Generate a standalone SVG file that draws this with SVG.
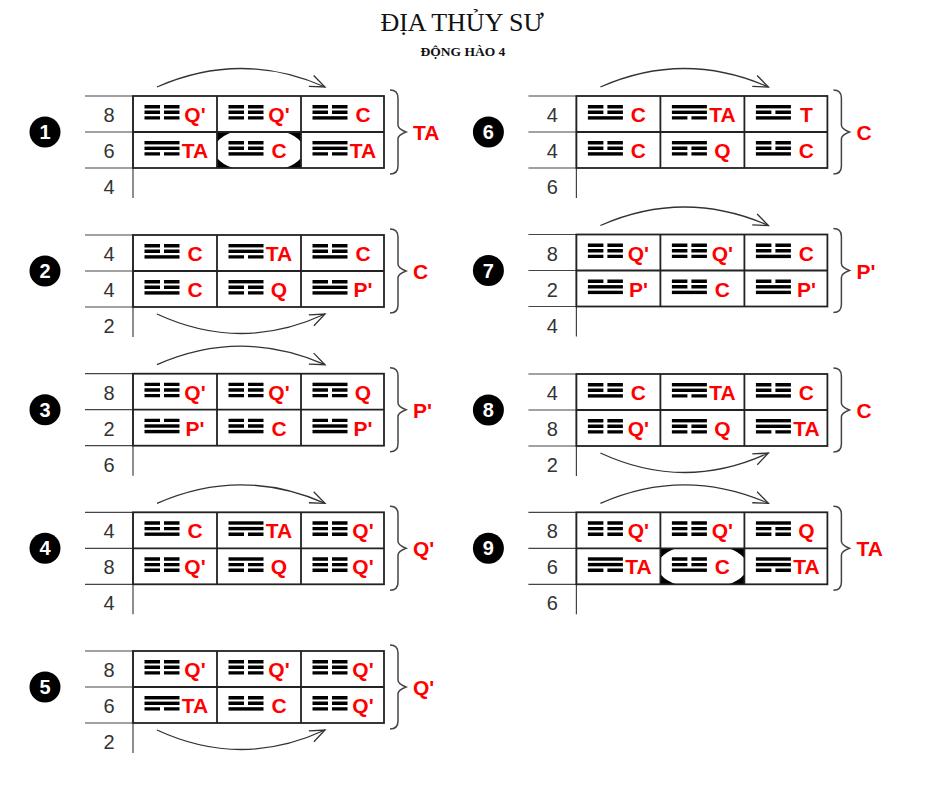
<svg xmlns="http://www.w3.org/2000/svg" width="930" height="800" viewBox="0 0 930 800">
<style>
.nl{stroke:#444;stroke-width:1.2;fill:none}
.box{stroke:#222;stroke-width:1.8;fill:none}
.num{font-family:"Liberation Sans",Arial,sans-serif;font-size:20px;fill:#333;text-anchor:middle}
.lab{font-family:"Liberation Sans",Arial,sans-serif;font-size:21px;font-weight:bold;fill:#ff0000;text-anchor:middle}
.bl{font-family:"Liberation Sans",Arial,sans-serif;font-size:21px;font-weight:bold;fill:#ff0000}
.br{stroke:#444;stroke-width:1.5;fill:none}
.cn{font-family:"Liberation Sans",Arial,sans-serif;font-size:20px;font-weight:bold;fill:#fff;text-anchor:middle}
.arc{stroke:#333;stroke-width:1.3;fill:none;marker-end:url(#ah)}
.hl{fill:#000}
</style>
<defs>
<marker id="ah" markerUnits="userSpaceOnUse" markerWidth="20" markerHeight="20" refX="16" refY="10" orient="auto" overflow="visible">
<path d="M1,4 L16,10 L1,16" fill="none" stroke="#333" stroke-width="1.3"/>
</marker>
<rect id="ls" width="35" height="3.4" fill="#000"/>
<path id="lb" d="M0,0h15.5v3.4h-15.5z M19.5,0h15.5v3.4h-15.5z" fill="#000"/>
<g id="g-Qp"><use href="#lb"/><use href="#lb" y="5.6"/><use href="#lb" y="11.2"/></g>
<g id="g-C"><use href="#lb"/><use href="#lb" y="5.6"/><use href="#ls" y="11.2"/></g>
<g id="g-TA"><use href="#ls"/><use href="#ls" y="5.6"/><use href="#lb" y="11.2"/></g>
<g id="g-Q"><use href="#ls"/><use href="#lb" y="5.6"/><use href="#lb" y="11.2"/></g>
<g id="g-Pp"><use href="#lb"/><use href="#ls" y="5.6"/><use href="#ls" y="11.2"/></g>
<g id="g-T"><use href="#ls"/><use href="#lb" y="5.6"/><use href="#ls" y="11.2"/></g>
<g id="frame">
<path class="nl" d="M0,0H48 M0,36H48 M0,72H48 M48,0V102"/>
<rect class="box" x="48" y="0" width="251" height="72"/>
<path class="box" d="M48,36H299 M132,0V72 M216,0V72"/>
<path class="br" d="M305,-6 Q313,-6 313,2 L313,29 Q313,33 321,36 Q313,39 313,43 L313,70 Q313,78 305,78"/>
<circle cx="-40" cy="36" r="15.5" fill="#000"/>
</g>
<g id="octa">
<path class="hl" d="M132,36 L148,36 Q138,39 132,46 Z"/>
<path class="hl" d="M216,36 L200,36 Q210,39 216,46 Z"/>
<path class="hl" d="M132,72 L148,72 Q138,69 132,62 Z"/>
<path class="hl" d="M216,72 L200,72 Q210,69 216,62 Z"/>
</g>
</defs>

<g id="title">
<text x="462" y="31" font-family="Liberation Serif,'Times New Roman',serif" font-size="26" text-anchor="middle" fill="#111">ĐỊA THỦY SƯ</text>
<text x="463" y="56" font-family="Liberation Serif,'Times New Roman',serif" font-size="13.5" font-weight="bold" text-anchor="middle" fill="#111">ĐỘNG HÀO 4</text>
</g>

<g id="panel-1" transform="translate(85,96)">
<use href="#octa"/>
<use href="#frame"/>
<text class="cn" x="-40" y="43">1</text>
<text class="num" x="24" y="26">8</text><text class="num" x="24" y="62">6</text><text class="num" x="24" y="98">4</text>
<use href="#g-Qp" x="59.5" y="9"/><text class="lab" x="110" y="26">Q'</text>
<use href="#g-Qp" x="143.5" y="9"/><text class="lab" x="194" y="26">Q'</text>
<use href="#g-C" x="227.5" y="9"/><text class="lab" x="278" y="26">C</text>
<use href="#g-TA" x="59.5" y="45"/><text class="lab" x="110" y="62">TA</text>
<use href="#g-C" x="143.5" y="45"/><text class="lab" x="194" y="62">C</text>
<use href="#g-TA" x="227.5" y="45"/><text class="lab" x="278" y="62">TA</text>
<text class="bl" x="328" y="44">TA</text>
</g>

<g id="panel-2" transform="translate(85,235)">
<use href="#frame"/>
<text class="cn" x="-40" y="43">2</text>
<text class="num" x="24" y="26">4</text><text class="num" x="24" y="62">4</text><text class="num" x="24" y="98">2</text>
<use href="#g-C" x="59.5" y="9"/><text class="lab" x="110" y="26">C</text>
<use href="#g-TA" x="143.5" y="9"/><text class="lab" x="194" y="26">TA</text>
<use href="#g-C" x="227.5" y="9"/><text class="lab" x="278" y="26">C</text>
<use href="#g-C" x="59.5" y="45"/><text class="lab" x="110" y="62">C</text>
<use href="#g-Q" x="143.5" y="45"/><text class="lab" x="194" y="62">Q</text>
<use href="#g-Pp" x="227.5" y="45"/><text class="lab" x="278" y="62">P'</text>
<text class="bl" x="328" y="44">C</text>
</g>

<g id="panel-3" transform="translate(85,373.7)">
<use href="#frame"/>
<text class="cn" x="-40" y="43">3</text>
<text class="num" x="24" y="26">8</text><text class="num" x="24" y="62">2</text><text class="num" x="24" y="98">6</text>
<use href="#g-Qp" x="59.5" y="9"/><text class="lab" x="110" y="26">Q'</text>
<use href="#g-Qp" x="143.5" y="9"/><text class="lab" x="194" y="26">Q'</text>
<use href="#g-Q" x="227.5" y="9"/><text class="lab" x="278" y="26">Q</text>
<use href="#g-Pp" x="59.5" y="45"/><text class="lab" x="110" y="62">P'</text>
<use href="#g-C" x="143.5" y="45"/><text class="lab" x="194" y="62">C</text>
<use href="#g-Pp" x="227.5" y="45"/><text class="lab" x="278" y="62">P'</text>
<text class="bl" x="328" y="44">P'</text>
</g>

<g id="panel-4" transform="translate(85,512.3)">
<use href="#frame"/>
<text class="cn" x="-40" y="43">4</text>
<text class="num" x="24" y="26">4</text><text class="num" x="24" y="62">8</text><text class="num" x="24" y="98">4</text>
<use href="#g-C" x="59.5" y="9"/><text class="lab" x="110" y="26">C</text>
<use href="#g-TA" x="143.5" y="9"/><text class="lab" x="194" y="26">TA</text>
<use href="#g-Qp" x="227.5" y="9"/><text class="lab" x="278" y="26">Q'</text>
<use href="#g-Qp" x="59.5" y="45"/><text class="lab" x="110" y="62">Q'</text>
<use href="#g-Q" x="143.5" y="45"/><text class="lab" x="194" y="62">Q</text>
<use href="#g-Qp" x="227.5" y="45"/><text class="lab" x="278" y="62">Q'</text>
<text class="bl" x="328" y="44">Q'</text>
</g>

<g id="panel-5" transform="translate(85,651)">
<use href="#frame"/>
<text class="cn" x="-40" y="43">5</text>
<text class="num" x="24" y="26">8</text><text class="num" x="24" y="62">6</text><text class="num" x="24" y="98">2</text>
<use href="#g-Qp" x="59.5" y="9"/><text class="lab" x="110" y="26">Q'</text>
<use href="#g-Qp" x="143.5" y="9"/><text class="lab" x="194" y="26">Q'</text>
<use href="#g-Qp" x="227.5" y="9"/><text class="lab" x="278" y="26">Q'</text>
<use href="#g-TA" x="59.5" y="45"/><text class="lab" x="110" y="62">TA</text>
<use href="#g-C" x="143.5" y="45"/><text class="lab" x="194" y="62">C</text>
<use href="#g-Qp" x="227.5" y="45"/><text class="lab" x="278" y="62">Q'</text>
<text class="bl" x="328" y="44">Q'</text>
</g>

<g id="panel-6" transform="translate(528.4,96)">
<use href="#frame"/>
<text class="cn" x="-40" y="43">6</text>
<text class="num" x="24" y="26">4</text><text class="num" x="24" y="62">4</text><text class="num" x="24" y="98">6</text>
<use href="#g-C" x="59.5" y="9"/><text class="lab" x="110" y="26">C</text>
<use href="#g-TA" x="143.5" y="9"/><text class="lab" x="194" y="26">TA</text>
<use href="#g-T" x="227.5" y="9"/><text class="lab" x="278" y="26">T</text>
<use href="#g-C" x="59.5" y="45"/><text class="lab" x="110" y="62">C</text>
<use href="#g-Q" x="143.5" y="45"/><text class="lab" x="194" y="62">Q</text>
<use href="#g-C" x="227.5" y="45"/><text class="lab" x="278" y="62">C</text>
<text class="bl" x="328" y="44">C</text>
</g>

<g id="panel-7" transform="translate(528.4,234.5)">
<use href="#frame"/>
<text class="cn" x="-40" y="43">7</text>
<text class="num" x="24" y="26">8</text><text class="num" x="24" y="62">2</text><text class="num" x="24" y="98">4</text>
<use href="#g-Qp" x="59.5" y="9"/><text class="lab" x="110" y="26">Q'</text>
<use href="#g-Qp" x="143.5" y="9"/><text class="lab" x="194" y="26">Q'</text>
<use href="#g-C" x="227.5" y="9"/><text class="lab" x="278" y="26">C</text>
<use href="#g-Pp" x="59.5" y="45"/><text class="lab" x="110" y="62">P'</text>
<use href="#g-C" x="143.5" y="45"/><text class="lab" x="194" y="62">C</text>
<use href="#g-Pp" x="227.5" y="45"/><text class="lab" x="278" y="62">P'</text>
<text class="bl" x="328" y="44">P'</text>
</g>

<g id="panel-8" transform="translate(528.4,374)">
<use href="#frame"/>
<text class="cn" x="-40" y="43">8</text>
<text class="num" x="24" y="26">4</text><text class="num" x="24" y="62">8</text><text class="num" x="24" y="98">2</text>
<use href="#g-C" x="59.5" y="9"/><text class="lab" x="110" y="26">C</text>
<use href="#g-TA" x="143.5" y="9"/><text class="lab" x="194" y="26">TA</text>
<use href="#g-C" x="227.5" y="9"/><text class="lab" x="278" y="26">C</text>
<use href="#g-Qp" x="59.5" y="45"/><text class="lab" x="110" y="62">Q'</text>
<use href="#g-Q" x="143.5" y="45"/><text class="lab" x="194" y="62">Q</text>
<use href="#g-TA" x="227.5" y="45"/><text class="lab" x="278" y="62">TA</text>
<text class="bl" x="328" y="44">C</text>
</g>

<g id="panel-9" transform="translate(528.4,512.3)">
<use href="#octa"/>
<use href="#frame"/>
<text class="cn" x="-40" y="43">9</text>
<text class="num" x="24" y="26">8</text><text class="num" x="24" y="62">6</text><text class="num" x="24" y="98">6</text>
<use href="#g-Qp" x="59.5" y="9"/><text class="lab" x="110" y="26">Q'</text>
<use href="#g-Qp" x="143.5" y="9"/><text class="lab" x="194" y="26">Q'</text>
<use href="#g-Q" x="227.5" y="9"/><text class="lab" x="278" y="26">Q</text>
<use href="#g-TA" x="59.5" y="45"/><text class="lab" x="110" y="62">TA</text>
<use href="#g-C" x="143.5" y="45"/><text class="lab" x="194" y="62">C</text>
<use href="#g-TA" x="227.5" y="45"/><text class="lab" x="278" y="62">TA</text>
<text class="bl" x="328" y="44">TA</text>
</g>

<g id="connectors">
<path class="arc" d="M157,87 Q241,50 325,87"/>
<path class="arc" d="M157,314 Q241,353 325,314"/>
<path class="arc" d="M157,364.7 Q241,327.7 325,364.7"/>
<path class="arc" d="M157,503.3 Q241,466.3 325,503.3"/>
<path class="arc" d="M157,730 Q241,769 325,730"/>
<path class="arc" d="M600.4,87 Q684.4,50 768.4,87"/>
<path class="arc" d="M600.4,225.5 Q684.4,188.5 768.4,225.5"/>
<path class="arc" d="M600.4,453 Q684.4,492 768.4,453"/>
<path class="arc" d="M600.4,503.3 Q684.4,466.3 768.4,503.3"/>
</g>
</svg>
